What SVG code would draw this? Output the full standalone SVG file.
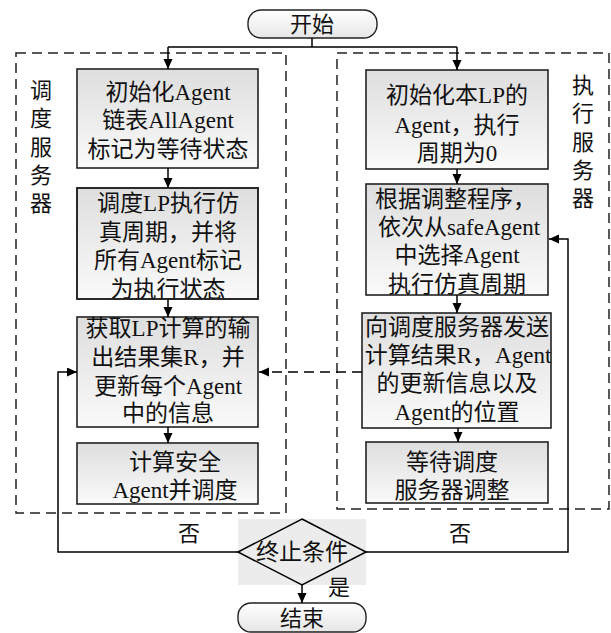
<svg xmlns="http://www.w3.org/2000/svg" width="611" height="633" viewBox="0 0 611 633">
<defs>
<linearGradient id="boxg" x1="0" y1="0" x2="0" y2="1">
<stop offset="0" stop-color="#dedede"/>
<stop offset="1" stop-color="#fafafa"/>
</linearGradient>
<linearGradient id="termg" x1="0" y1="0" x2="0" y2="1">
<stop offset="0" stop-color="#ffffff"/>
<stop offset="1" stop-color="#e6e6e6"/>
</linearGradient>
<marker id="arr" markerUnits="userSpaceOnUse" markerWidth="11" markerHeight="10" refX="10" refY="4.5" orient="auto">
<path d="M0,0 L10,4.5 L0,9 z" fill="#000"/>
</marker>
<style>
.box{fill:url(#boxg);stroke:#222;stroke-width:1.6}
.edge{fill:none;stroke:#222;stroke-width:1.6}
.term{fill:url(#termg);stroke:#222;stroke-width:1.4}
.frame{fill:none;stroke:#222;stroke-width:1.5;stroke-dasharray:10,6}
.t{font-family:"Liberation Serif","Noto Sans CJK SC",serif;font-size:23px;fill:#111;text-anchor:middle}
.lbl{font-family:"Liberation Serif","Noto Sans CJK SC",serif;font-size:22px;fill:#111;text-anchor:middle}
.c{fill:none;stroke:#000;stroke-width:1.5}
.ca{fill:none;stroke:#000;stroke-width:1.5;marker-end:url(#arr)}
.cd{fill:none;stroke:#000;stroke-width:1.5;stroke-dasharray:10,6;marker-end:url(#arr)}
</style>
</defs>
<rect width="611" height="633" fill="#fff"/>

<g id="frame-left">
<rect class="frame" x="16" y="53" width="270" height="460"/>
<text class="lbl" x="41"><tspan x="41" y="98">调</tspan><tspan x="41" y="126">度</tspan><tspan x="41" y="155">服</tspan><tspan x="41" y="183">务</tspan><tspan x="41" y="211">器</tspan></text>
</g>
<g id="frame-right">
<rect class="frame" x="337" y="53" width="272" height="456"/>
<text class="lbl" x="583"><tspan x="583" y="93">执</tspan><tspan x="583" y="121">行</tspan><tspan x="583" y="150">服</tspan><tspan x="583" y="178">务</tspan><tspan x="583" y="206">器</tspan></text>
</g>

<g id="start">
<rect class="term" x="248" y="10" width="129" height="28" rx="13"/>
<text class="lbl" x="312" y="32">开始</text>
</g>

<g id="box1">
<rect class="box" x="77" y="69" width="181" height="99"/>
<text class="t"><tspan x="168" y="100">初始化Agent</tspan><tspan x="168" y="128">链表AllAgent</tspan><tspan x="168" y="157">标记为等待状态</tspan></text>
</g>
<g id="box2">
<rect class="box" x="77" y="188" width="181" height="111"/>
<text class="t"><tspan x="168" y="211">调度LP执行仿</tspan><tspan x="168" y="240">真周期，并将</tspan><tspan x="168" y="268">所有Agent标记</tspan><tspan x="168" y="297">为执行状态</tspan></text>
<rect class="edge" x="77" y="188" width="181" height="111"/>
</g>
<g id="box3">
<rect class="box" x="77" y="317" width="181" height="110"/>
<text class="t"><tspan x="168" y="336">获取LP计算的输</tspan><tspan x="168" y="365">出结果集R，并</tspan><tspan x="168" y="394">更新每个Agent</tspan><tspan x="168" y="421">中的信息</tspan></text>
</g>
<g id="box4">
<rect class="box" x="77" y="443" width="181" height="61"/>
<text class="t"><tspan x="175" y="470">计算安全</tspan><tspan x="175" y="498">Agent并调度</tspan></text>
</g>

<g id="r1">
<rect class="box" x="366" y="70" width="182" height="99"/>
<text class="t"><tspan x="457" y="103">初始化本LP的</tspan><tspan x="457" y="133">Agent，执行</tspan><tspan x="457" y="161">周期为0</tspan></text>
</g>
<g id="r2">
<rect class="box" x="366" y="184" width="182" height="111"/>
<text class="t"><tspan x="375" y="207" text-anchor="start">根据调整程序，</tspan><tspan x="459" y="235">依次从safeAgent</tspan><tspan x="457" y="263">中选择Agent</tspan><tspan x="457" y="292">执行仿真周期</tspan></text>
</g>
<g id="r3">
<rect class="box" x="362" y="313" width="189" height="115"/>
<text class="t"><tspan x="457" y="335">向调度服务器发送</tspan><tspan x="458" y="363">计算结果R，Agent</tspan><tspan x="457" y="391">的更新信息以及</tspan><tspan x="457" y="420">Agent的位置</tspan></text>
</g>
<g id="r4">
<rect class="box" x="366" y="442" width="182" height="61"/>
<text class="t"><tspan x="452" y="470">等待调度</tspan><tspan x="452" y="498">服务器调整</tspan></text>
</g>

<g id="decision">
<rect x="238" y="519" width="128" height="66" fill="#ececec"/>
<polygon points="302,519 366,552 302,585 238,552" fill="none" stroke="#000" stroke-width="1.5"/>
<text class="t" x="302" y="560">终止条件</text>
</g>

<g id="end">
<rect class="term" x="238" y="603" width="128" height="29" rx="13"/>
<text class="lbl" x="302" y="626">结束</text>
</g>

<g id="connectors">
<path class="c" d="M312,38 V47 M168,47 H457"/>
<path class="ca" d="M168,47 V69"/>
<path class="ca" d="M457,47 V70"/>
<path class="ca" d="M168,168 V188"/>
<path class="ca" d="M168,299 V317"/>
<path class="ca" d="M168,427 V443"/>
<path class="ca" d="M457,169 V184"/>
<path class="ca" d="M457,295 V313"/>
<path class="ca" d="M458,428 V442"/>
<path class="cd" d="M362,372 H259"/>
<path class="ca" d="M238,552 H58 V372 H77"/>
<path class="ca" d="M366,552 H568 V239 H549"/>
<path class="ca" d="M302,585 V603"/>
<text class="lbl" x="189" y="541">否</text>
<text class="lbl" x="460" y="541">否</text>
<text class="lbl" x="339" y="595">是</text>
</g>
</svg>
